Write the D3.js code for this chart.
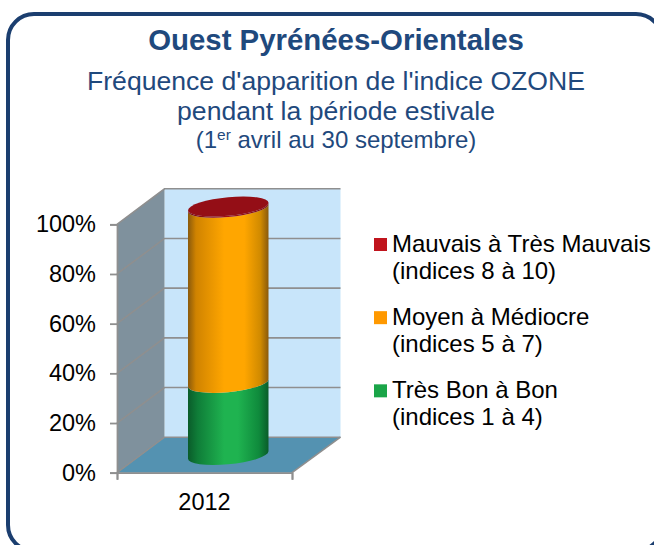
<!DOCTYPE html>
<html>
<head>
<meta charset="utf-8">
<script src="https://cdn.jsdelivr.net/npm/d3@7"></script>
<style>
  html, body {margin: 0; background: #fff;}
  svg {display: block;}
  text {font-family: 'Liberation Sans', Arial, sans-serif;}
</style>
</head>
<body>
<div id="graph"></div>
<script>
var years = ['2012']
var seriesNames = ['Très Bon à Bon', 'Moyen à Médiocre', 'Mauvais à Très Mauvais']
var seriesIndices = ['(indices 1 à 4)', '(indices 5 à 7)', '(indices 8 à 10)']
var seriesValues = [29, 70.5, 0.5]
var yTicks = [0, 20, 40, 60, 80, 100]
var legendColors = ['#1aa548', '#ff9900', '#c0141d']

var width = 654, height = 545
var navy = '#1f497d'

var svg = d3.select('#graph').append('svg')
  .attr('width', width).attr('height', height)

// frame
svg.append('rect')
  .attr('x', 8).attr('y', 14)
  .attr('width', 654).attr('height', 537)
  .attr('rx', 26).attr('ry', 26)
  .attr('fill', '#fff').attr('stroke', '#1b3e6f').attr('stroke-width', 4)

// titles
function centered(y, size, bold){
  return svg.append('text')
    .attr('x', 336).attr('y', y)
    .attr('text-anchor', 'middle')
    .attr('font-size', size)
    .attr('font-weight', bold ? 'bold' : 'normal')
    .attr('fill', navy)
}
centered(50, 29.4, true).text('Ouest Pyrénées-Orientales')
centered(90, 26.6).text("Fréquence d'apparition de l'indice OZONE")
centered(120, 26.6).text('pendant la période estivale')
var dates = centered(148, 24)
dates.append('tspan').text('(1')
dates.append('tspan').attr('dy', -8).attr('font-size', 15.5).text('er')
dates.append('tspan').attr('dy', 8).text(' avril au 30 septembre)')

// scales, depth is the 3d offset of the back wall
var depthX = 47.5, depthY = -35.5
var y = d3.scaleLinear().domain([0, 100]).range([472.7, 224.3])
var x = d3.scaleBand().domain(years).range([117, 292]).paddingInner(0.54).paddingOuter(0.27)

var defs = svg.append('defs')
function cylGradient(id, stops){
  var g = defs.append('linearGradient').attr('id', id)
  stops.forEach(d => g.append('stop').attr('offset', d[0]).attr('stop-color', d[1]))
}
cylGradient('grad0', [[0, '#0a5c2a'], [0.12, '#0f7d38'], [0.45, '#1fb350'], [0.62, '#1fb350'], [0.88, '#0f8a3c'], [1, '#0a5c2a']])
cylGradient('grad1', [[0, '#8a5a0c'], [0.1, '#d08300'], [0.45, '#ffa600'], [0.7, '#ffa600'], [0.9, '#d08a00'], [1, '#8a5a0c']])
cylGradient('grad2', [[0, '#7a0c12'], [0.5, '#a01018'], [1, '#7a0c12']])

// walls
var x0 = 117, x1 = 292, y0 = y(0), yT = y(100)
svg.append('polygon')
  .attr('points', [[x0 + depthX, y0 + depthY], [x1 + depthX + 1, y0 + depthY], [x1 + depthX + 1, yT + depthY], [x0 + depthX, yT + depthY]].join(' '))
  .attr('fill', '#c8e5fa')
svg.append('polygon')
  .attr('points', [[x0, y0], [x0 + depthX, y0 + depthY], [x0 + depthX, yT + depthY], [x0, yT]].join(' '))
  .attr('fill', '#7f919d')
svg.append('polygon')
  .attr('points', [[x0, y0], [x0 + depthX, y0 + depthY], [x1 + depthX + 1, y0 + depthY], [x1, y0]].join(' '))
  .attr('fill', '#5492b1')

// gridlines
yTicks.forEach(d => {
  svg.append('path')
    .attr('d', `M${x0},${y(d)}L${x0 + depthX},${y(d) + depthY}H${x1 + depthX + 1}`)
    .attr('fill', 'none')
    .attr('stroke', '#8f8f8f')
    .attr('stroke-width', 1.6)
})
svg.append('line')
  .attr('x1', x1).attr('y1', y0).attr('x2', x1 + depthX + 1).attr('y2', y0 + depthY)
  .attr('stroke', '#8f8f8f').attr('stroke-width', 1.6)

// axes
var yAxis = d3.axisLeft(y).tickValues(yTicks).tickFormat(d => d + '%').tickSize(7).tickPadding(14)
var yG = svg.append('g').attr('transform', `translate(${x0},0)`).call(yAxis)
var xAxis = d3.axisBottom(d3.scaleLinear().domain([0, 1]).range([x0, x1])).tickValues([0, 1]).tickFormat('').tickSize(7)
var xG = svg.append('g').attr('transform', `translate(0,${y0})`).call(xAxis)
yG.selectAll('path, line').attr('stroke', '#8f8f8f').attr('stroke-width', 1.8)
xG.selectAll('path, line').attr('stroke', '#8f8f8f').attr('stroke-width', 1.8)
yG.selectAll('text').attr('font-size', 23.5).attr('fill', '#000')
  .attr('font-family', "'Liberation Sans', Arial, sans-serif")

svg.append('text')
  .attr('x', x(years[0]) + x.bandwidth()/2).attr('y', 510)
  .attr('text-anchor', 'middle').attr('font-size', 23.5).attr('fill', '#000')
  .text(years[0])

// cylinder, stacked from the values
var rx = x.bandwidth()/2, ry = 9.3, tilt = 3.7
var cx = x(years[0]) + rx + depthX/2
var cyl = svg.append('g')
  .attr('transform', `translate(${cx},${depthY/2}) skewY(${-Math.atan(tilt/rx)*180/Math.PI})`)

var sum = 0
seriesValues.forEach((v, i) => {
  var bot = y(sum), top = y(sum + v)
  sum += v
  cyl.append('path')
    .attr('d', `M${-rx},${top}V${bot}A${rx},${ry} 0 0 0 ${rx},${bot}V${top}A${rx},${ry} 0 0 1 ${-rx},${top}Z`)
    .attr('fill', `url(#grad${i})`)
})
cyl.append('ellipse')
  .attr('cx', 0).attr('cy', y(sum))
  .attr('rx', rx).attr('ry', ry)
  .attr('fill', '#940e16')

// legend, top entry is the last series
var legendY = d3.scaleBand().domain([2, 1, 0]).range([238, 457.5]).paddingInner(0)
var legend = svg.selectAll('g.legend').data([2, 1, 0]).enter().append('g')
  .attr('transform', d => `translate(374,${legendY(d)})`)
legend.append('rect')
  .attr('width', 13).attr('height', 13)
  .attr('fill', d => legendColors[d])
legend.append('text')
  .attr('x', 18).attr('y', 14)
  .attr('font-size', 24).attr('fill', '#000')
  .text(d => seriesNames[d])
legend.append('text')
  .attr('x', 18).attr('y', 41)
  .attr('font-size', 24).attr('fill', '#000')
  .text(d => seriesIndices[d])
</script>
</body>
</html>
